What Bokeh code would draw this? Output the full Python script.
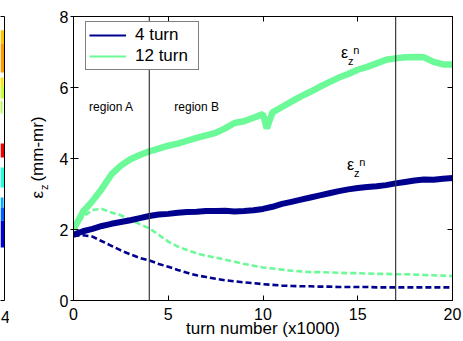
import math
from bokeh.plotting import figure
from bokeh.layouts import row
from bokeh.models import (Range1d, FixedTicker, Span, Label, Legend, LegendItem,
                          LinearAxis)
from bokeh.core.properties import value
from bokeh.embed import file_html
from bokeh.resources import INLINE

# ---------------- data ----------------
turns = [0.0, 0.5, 1.0, 1.5, 2.0, 2.5, 3.0, 3.5, 4.0, 4.5, 5.0, 5.5, 6.0, 6.5,
         7.0, 7.5, 8.0, 8.5, 9.0, 9.5, 10.0, 10.5, 11.0, 11.5, 12.0, 12.5, 13.0,
         13.5, 14.0, 14.5, 15.0, 15.5, 16.0, 16.5, 17.0, 17.5, 18.0, 18.5, 19.0,
         19.5, 20.0]

eps4_solid = [1.85, 1.95, 2.02, 2.10, 2.16, 2.21, 2.26, 2.32, 2.38, 2.42, 2.44,
              2.47, 2.49, 2.50, 2.52, 2.52, 2.53, 2.51, 2.52, 2.54, 2.58, 2.64,
              2.72, 2.78, 2.84, 2.90, 2.96, 3.02, 3.08, 3.13, 3.17, 3.20, 3.22,
              3.25, 3.30, 3.34, 3.38, 3.41, 3.40, 3.43, 3.45]

eps4_dash = [1.82, 1.84, 1.80, 1.67, 1.54, 1.41, 1.30, 1.20, 1.13, 1.03, 0.95,
             0.86, 0.78, 0.71, 0.66, 0.61, 0.57, 0.54, 0.51, 0.49, 0.46, 0.44,
             0.42, 0.41, 0.40, 0.40, 0.39, 0.39, 0.38, 0.38, 0.38, 0.38, 0.37,
             0.37, 0.37, 0.37, 0.37, 0.37, 0.37, 0.37, 0.37]

turns12 = [0.0, 0.5, 1.0, 1.5, 2.0, 2.5, 3.0, 3.5, 4.0, 4.5, 5.0, 5.5, 6.0, 6.5,
           7.0, 7.5, 8.0, 8.5, 9.0, 9.5, 10.0, 10.2, 10.5, 11.0, 11.5, 12.0,
           12.5, 13.0, 13.5, 14.0, 14.5, 15.0, 15.5, 16.0, 16.5, 17.0, 17.5,
           18.0, 18.5, 19.0, 19.5, 20.0]

eps12_solid = [2.00, 2.50, 2.80, 3.15, 3.55, 3.80, 3.98, 4.10, 4.20, 4.28, 4.36,
               4.42, 4.50, 4.58, 4.65, 4.72, 4.85, 5.00, 5.05, 5.15, 5.25, 4.85,
               5.30, 5.45, 5.60, 5.75, 5.88, 6.02, 6.15, 6.28, 6.38, 6.50, 6.58,
               6.68, 6.78, 6.82, 6.85, 6.86, 6.85, 6.72, 6.65, 6.65]

eps12_dash = [2.02, 2.35, 2.55, 2.58, 2.48, 2.40, 2.28, 2.15, 2.03, 1.85, 1.66,
              1.52, 1.42, 1.33, 1.26, 1.21, 1.15, 1.09, 1.03, 0.98, 0.93, 0.90,
              0.87, 0.84, 0.82, 0.80, 0.80, 0.79, 0.78, 0.77, 0.77, 0.76, 0.75,
              0.75, 0.74, 0.74, 0.73, 0.72, 0.71, 0.70, 0.69]

x_ticks = [0, 5, 10, 15, 20]
y_ticks = [0, 2, 4, 6, 8]
region_bounds = [4, 17]
series_labels = ["4 turn", "12 turn"]
region_labels = ["region A", "region B"]
x_title = "turn number (x1000)"
y_title_parts = ["ε", "z", "(mm-mr)"]

# fragment of the neighbouring panel (left edge)
frag_bottom = [7.24, 6.42, 6.00, 5.69, 5.27, 4.03, 3.18, 2.62, 2.25, 1.49]
frag_top = [7.61, 7.24, 6.28, 6.03, 5.63, 4.42, 3.75, 2.90, 2.62, 2.25]
frag_right = [4.0, 4.0, 3.0, 4.0, 2.0, 4.0, 3.5, 3.0, 4.0, 4.0]
frag_color = ["#FFC400", "#FF9A00", "#FFE600", "#C8FF38", "#B4FF4A",
              "#F00000", "#20FFE0", "#00B0FF", "#0060FF", "#0000D8"]

NAVY = "#00008F"
GREEN = "#6CFA98"
FONT = "Liberation Sans"

# ---------------- left fragment ----------------
frag = figure(width=9, height=341, x_range=Range1d(0, 4), y_range=Range1d(0, 8),
              min_border_left=0, min_border_right=5, min_border_top=16,
              min_border_bottom=41, toolbar_location=None, output_backend="svg",
              x_axis_location=None, y_axis_location=None)
frag.outline_line_color = None
frag.xgrid.visible = False
frag.ygrid.visible = False
frag.quad(left=[0] * len(frag_right), right=frag_right, bottom=frag_bottom,
          top=frag_top, fill_color=frag_color, line_color=None)
for loc in ("right", "above"):
    ax = LinearAxis(ticker=FixedTicker(ticks=[]), major_tick_in=0, major_tick_out=0,
                    minor_tick_line_color=None, major_label_standoff=0,
                    axis_line_color="black")
    frag.add_layout(ax, loc)
fb = LinearAxis(ticker=FixedTicker(ticks=[4]), major_tick_in=0, major_tick_out=0,
                minor_tick_line_color=None, major_label_standoff=10,
                major_label_text_font=FONT, major_label_text_font_size="16px",
                major_label_text_color="black", axis_line_color="black")
frag.add_layout(fb, "below")
frag.border_fill_color = "white"

# ---------------- y title strip (frame aligned with the main frame) ----------------
YW = 40
ylab = figure(width=YW, height=341, x_range=Range1d(0, YW), y_range=Range1d(0, 8),
              min_border_left=0, min_border_right=0, min_border_top=16,
              min_border_bottom=41, toolbar_location=None, output_backend="svg",
              x_axis_location=None, y_axis_location=None)
ylab.outline_line_color = None
ylab.xgrid.visible = False
ylab.ygrid.visible = False
ylab.text(x=[28, 34, 28], y=[2.87, 3.11, 3.35], text=y_title_parts,
          angle=math.pi / 2, text_font=value(FONT),
          text_font_size=["17px", "11px", "17px"], text_align="left",
          text_baseline="alphabetic", text_color="black")

# ---------------- main panel ----------------
MW = 463 - 9 - YW
p = figure(width=MW, height=341, x_range=Range1d(0, 20), y_range=Range1d(0, 8),
           min_border_left=73 - 9 - YW, min_border_right=11, min_border_top=16,
           min_border_bottom=41, toolbar_location=None, output_backend="svg")
p.grid.visible = False
p.outline_line_color = "black"
p.outline_line_width = 1
p.border_fill_color = "white"

p.xaxis.ticker = FixedTicker(ticks=x_ticks)
p.yaxis.ticker = FixedTicker(ticks=y_ticks)
for ax in p.xaxis + p.yaxis:
    ax.minor_tick_line_color = None
    ax.major_label_text_font = FONT
    ax.major_label_text_font_size = "16px"
    ax.major_label_text_color = "black"
    ax.axis_line_color = "black"
    ax.major_tick_line_color = "black"
p.xaxis.major_tick_in = 5
p.xaxis.major_tick_out = 0
p.xaxis.major_label_standoff = 7
p.xaxis.axis_label = x_title
p.xaxis.axis_label_text_font = FONT
p.xaxis.axis_label_text_font_size = "17px"
p.xaxis.axis_label_text_font_style = "normal"
p.xaxis.axis_label_text_color = "black"
p.xaxis.axis_label_standoff = -4
p.yaxis.major_tick_in = 5
p.yaxis.major_tick_out = 3
p.yaxis.major_label_standoff = 2

p.add_layout(LinearAxis(ticker=FixedTicker(ticks=x_ticks), major_tick_in=5,
                        major_tick_out=0, minor_tick_line_color=None,
                        major_label_text_font_size="1px", major_label_text_color=None,
                        major_label_standoff=0, axis_line_color="black"), "above")
p.add_layout(LinearAxis(ticker=FixedTicker(ticks=y_ticks), major_tick_in=5,
                        major_tick_out=0, minor_tick_line_color=None,
                        major_label_text_font_size="1px", major_label_text_color=None,
                        major_label_standoff=0, axis_line_color="black"), "right")

for b in region_bounds:
    p.add_layout(Span(location=b, dimension="height", line_color="#3a3a3a",
                      line_width=1.2))

p.line(turns, eps12_dash, line_color=GREEN, line_width=2.6, line_dash="6 3")
p.line(turns, eps4_dash, line_color=NAVY, line_width=2.6, line_dash="6 3")
p.line(turns12, eps12_solid, line_color=GREEN, line_width=6.5)
p.line(turns, eps4_solid, line_color=NAVY, line_width=6)
# thin cores of the solid curves (also used as legend glyphs)
l12 = p.line(turns12, eps12_solid, line_color=GREEN, line_width=2)
l4 = p.line(turns, eps4_solid, line_color=NAVY, line_width=2)

legend = Legend(items=[LegendItem(label=series_labels[0], renderers=[l4]),
                       LegendItem(label=series_labels[1], renderers=[l12])],
                location=(12, 230), padding=3, spacing=1, label_height=16,
                glyph_height=16, glyph_width=37, label_standoff=9, label_width=60,
                margin=0, border_line_color="black", border_line_width=1,
                background_fill_color="white", background_fill_alpha=1,
                label_text_font=FONT, label_text_font_size="17px",
                label_text_color="black")
p.add_layout(legend)

# region labels
for xv, txt in zip([2.0, 6.5], region_labels):
    p.add_layout(Label(x=xv, y=5.46, text=txt, text_font=FONT,
                       text_font_size="12px", text_align="center",
                       text_baseline="middle", text_color="black"))

# epsilon_z^n labels on the curves
for (ex, ey) in [(14.3, 6.99), (14.62, 3.83)]:
    p.add_layout(Label(x=ex, y=ey, text="ε", text_font=FONT, text_font_size="16px",
                       text_align="center", text_baseline="middle", text_color="black"))
    p.add_layout(Label(x=ex + 0.33, y=ey - 0.24, text="z", text_font=FONT,
                       text_font_size="11px", text_align="center",
                       text_baseline="middle", text_color="black"))
    p.add_layout(Label(x=ex + 0.62, y=ey + 0.08, text="n", text_font=FONT,
                       text_font_size="11px", text_align="center",
                       text_baseline="middle", text_color="black"))

layout = row(frag, ylab, p, spacing=0)
open("out.html", "w").write(file_html(layout, INLINE))
